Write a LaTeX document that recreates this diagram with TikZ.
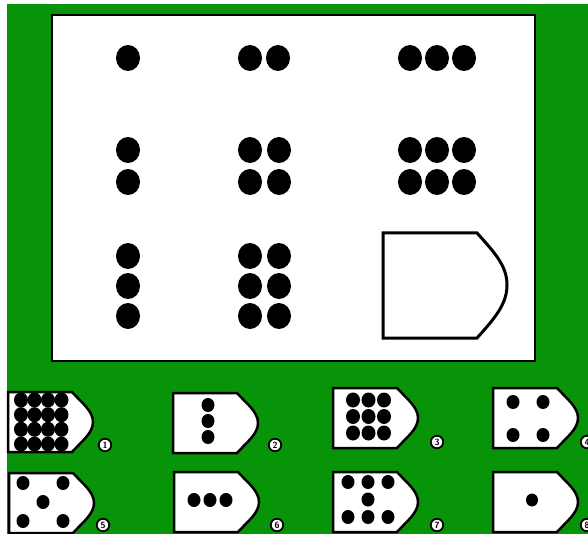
\documentclass[tikz,border=0pt]{standalone}
\usetikzlibrary{shapes.geometric}
\definecolor{bggreen}{RGB}{8,148,8}
\begin{document}
\begin{tikzpicture}[x=1pt,y=-1pt,
  mainrect/.style={fill=white,draw=black,line width=1.5pt},
  ansline/.style={draw=black,fill=white,line width=3pt,line join=miter},
  optline/.style={draw=black,fill=white,line width=2.5pt},
  bigdot/.style={fill=black},
  numc/.style={circle,draw=black,fill=white,line width=1.8pt,inner sep=0pt,minimum size=12.5pt,
    font=\sffamily\bfseries\fontsize{9}{9}\selectfont},
  pics/opt/.style={code={
    \draw[optline] (0,0) -- (64,0) .. controls (74,11) and (85,19) .. (85,30)
      .. controls (85,41) and (74,49) .. (64,60) -- (0,60) -- cycle;}}
]
\useasboundingbox (0,0) rectangle (588,534);
\fill[white] (0,0) rectangle (588,534);
\fill[bggreen] (7,4) rectangle (588,534);
% main panel
\draw[mainrect] (52,15) rectangle (535,361);
% row 1
\foreach \p in {(128,58),(250,58),(278,58),(410,58),(437,58),(464,58)}
  \fill[bigdot] \p ellipse [x radius=12, y radius=13];
% row 2
\foreach \p in {(128,150),(128,182),(250,150),(279,150),(250,182),(279,182),
  (410,150),(437,150),(464,150),(410,182),(437,182),(464,182)}
  \fill[bigdot] \p ellipse [x radius=12, y radius=13];
% row 3
\foreach \p in {(128,256),(128,286),(128,316),(250,256),(279,256),(250,286),(279,286),(250,316),(279,316)}
  \fill[bigdot] \p ellipse [x radius=12, y radius=13];
% answer box
\draw[ansline] (383,233) -- (477,233) .. controls (495,253) and (507,266) .. (507,285)
  .. controls (507,304) and (495,318) .. (477,338) -- (383,338) -- cycle;
% options
\pic (o1) at (8,392) {opt};
\pic (o2) at (173,393) {opt};
\pic (o3) at (333,388) {opt};
\pic (o4) at (493,388) {opt};
\pic (o5) at (9,473) {opt};
\pic (o6) at (174,472) {opt};
\pic (o7) at (333,472) {opt};
\pic (o8) at (493,472) {opt};
% option dots
\foreach \x in {21,34.5,48,61.5}
  \foreach \y in {400,414.7,429.3,444}
    \fill[bigdot] (\x,\y) ellipse [x radius=7, y radius=7.5];
\foreach \y in {405,421,437}
  \fill[bigdot] (208,\y) ellipse [x radius=6.5, y radius=7];
\foreach \x in {353,368.5,384}
  \foreach \y in {400,416.5,433}
    \fill[bigdot] (\x,\y) ellipse [x radius=7, y radius=7.5];
\foreach \p in {(513,402),(543,402),(513,435),(543,435)}
  \fill[bigdot] \p ellipse [x radius=6.5, y radius=7];
\foreach \p in {(23,483),(63,483),(43,502),(23,521),(63,521)}
  \fill[bigdot] \p ellipse [x radius=6.5, y radius=7];
\foreach \p in {(194,500),(210,500),(226,500)}
  \fill[bigdot] \p ellipse [x radius=6.5, y radius=7];
\foreach \p in {(348,482),(368,482),(388,482),(368,499.5),(348,517),(368,517),(388,517)}
  \fill[bigdot] \p ellipse [x radius=6.5, y radius=7];
\fill[bigdot] (532,500) ellipse [x radius=6, y radius=6.5];
% numbers
\node[numc] (n1) at (105,445) {1};
\node[numc] (n2) at (275,445) {2};
\node[numc] (n3) at (437,442) {3};
\node[numc] (n4) at (587,442) {4};
\node[numc] (n5) at (103,525) {5};
\node[numc] (n6) at (277,525) {6};
\node[numc] (n7) at (437,525) {7};
\node[numc] (n8) at (587,525) {8};
\end{tikzpicture}
\end{document}
